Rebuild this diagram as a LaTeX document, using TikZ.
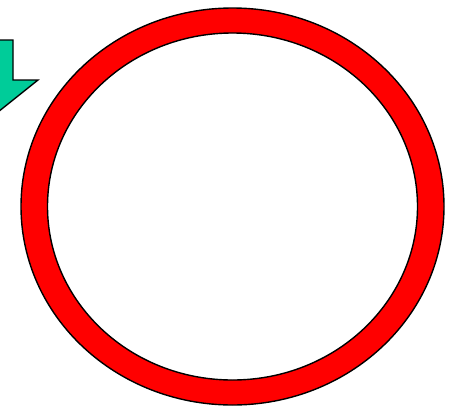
\documentclass[tikz,border=0pt]{standalone}
\usepackage{tikz}
\definecolor{ArrowGreen}{RGB}{0,204,153}

\begin{document}
\begin{tikzpicture}[
  x=1pt, y=-1pt,
  outline/.style={draw=black, line width=1.4pt, line join=miter},
  ringfill/.style={outline, fill=red, even odd rule},
  arrowfill/.style={outline, fill=ArrowGreen},
]
\useasboundingbox (0,0) rectangle (452,407);

% centre of the ring
\coordinate (ringc) at (232.5,206.5);

% red ring: outer and inner ellipse
\path[ringfill] (ringc) ellipse [x radius=211.5, y radius=198.5]
                (ringc) ellipse [x radius=185, y radius=173.5];

% block arrow, mostly cut off at the left edge
\draw[arrowfill] (-37,40) -- (13,40) -- (13,80) -- (38,80)
  -- (-12,120) -- (-62,80) -- (-37,80) -- cycle;

\end{tikzpicture}
\end{document}
